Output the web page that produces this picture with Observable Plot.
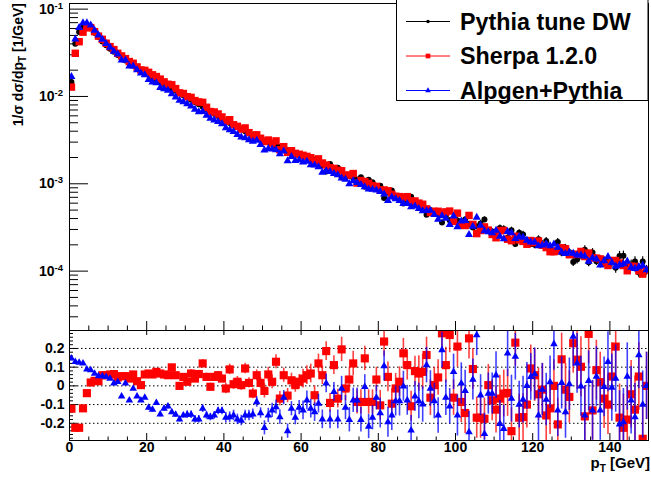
<!DOCTYPE html>
<html><head><meta charset="utf-8">
<script src="https://cdn.jsdelivr.net/npm/d3@7"></script>
<script src="https://cdn.jsdelivr.net/npm/@observablehq/plot@0.6"></script>
<style>
html,body{margin:0;padding:0;background:#fff;}
#chart{position:relative;width:651px;height:482px;overflow:hidden;font-family:"Liberation Sans",Arial,Helvetica,sans-serif;}
#upper{position:absolute;left:0;top:0;}
#lower{position:absolute;left:0;top:330px;}
</style></head><body>
<div id="chart"><div id="upper"></div><div id="lower"></div></div>
<script>
// ---------------- DATA ----------------
const binWidth = 1; // GeV, bins from 0 to 150
const seriesNames = ["Pythia tune DW", "Sherpa 1.2.0", "Alpgen+Pythia"];
const seriesColors = ["black", "red", "blue"];

// 1/sigma dsigma/dpT [1/GeV]
const pythia = [0.0146,0.0402,0.0546,0.0619,0.0638,0.0603,0.0537,0.0479,0.0427,0.0385,
0.0351,0.0324,0.0299,0.0277,0.0258,0.0242,0.0226,0.0213,0.0200,0.0188,
0.0177,0.0167,0.0157,0.0148,0.0139,0.0131,0.0124,0.0116,0.0110,0.0103,
0.00973,0.00916,0.00863,0.00813,0.00764,0.00718,0.00675,0.00634,0.00596,0.00560,
0.00527,0.00498,0.00470,0.00445,0.00421,0.00399,0.00379,0.00361,0.00344,0.00327,
0.00313,0.00299,0.00287,0.00275,0.00264,0.00252,0.00242,0.00232,0.00222,0.00213,
0.00204,0.00195,0.00187,0.00190,0.00172,0.00164,0.00138,0.00168,0.00135,0.00153,
0.00118,0.00127,0.00122,0.00117,0.00112,0.00119,0.000927,0.00111,0.00104,0.000903,
0.000952,0.000687,0.000794,0.000836,0.000729,0.000698,0.000595,0.000641,0.000712,0.000589,
0.000564,0.000542,0.000443,0.000501,0.000482,0.000463,0.000361,0.000429,0.000383,0.000396,
0.000381,0.000369,0.000389,0.000346,0.000315,0.000324,0.000352,0.000389,0.000294,0.000285,
0.000276,0.000312,0.000304,0.000241,0.000294,0.000204,0.000275,0.000263,0.000225,0.000205,
0.000201,0.000231,0.000202,0.000221,0.000190,0.000167,0.000215,0.000162,0.000184,0.000164,
0.000127,0.000136,0.000152,0.000176,0.000126,0.000163,0.000130,0.000135,0.000132,0.000129,
0.000126,0.000109,0.000149,0.000150,0.000123,0.000119,0.000129,0.0000963,0.000129,0.000103];

const sherpa = [0.0128,0.0312,0.0424,0.0545,0.0613,0.0614,0.0552,0.0491,0.0451,0.0407,
0.0372,0.0344,0.0312,0.0291,0.0271,0.0251,0.0240,0.0218,0.0201,0.0199,
0.0189,0.0177,0.0169,0.0158,0.0147,0.0138,0.0136,0.0123,0.0110,0.0108,
0.00994,0.00976,0.00897,0.00864,0.00856,0.00752,0.00672,0.00664,0.00630,0.00582,
0.00520,0.00542,0.00474,0.00455,0.00423,0.00436,0.00385,0.00346,0.00364,0.00332,
0.00305,0.00317,0.00293,0.00310,0.00246,0.00266,0.00229,0.00239,0.00223,0.00218,
0.00212,0.00206,0.00199,0.00181,0.00193,0.00173,0.00164,0.00153,0.00150,0.00143,
0.00141,0.00125,0.00126,0.00131,0.00102,0.00109,0.00106,0.00101,0.000951,0.000934,
0.000853,0.000850,0.000832,0.000757,0.000719,0.000713,0.000699,0.000712,0.000634,0.000636,
0.000601,0.000583,0.000516,0.000469,0.000484,0.000484,0.000462,0.000477,0.000487,0.000371,
0.000461,0.000337,0.000333,0.000434,0.000343,0.000269,0.000292,0.000321,0.000295,0.000263,
0.000241,0.000291,0.000292,0.000232,0.000223,0.000251,0.000228,0.000219,0.000203,0.000224,
0.000212,0.000221,0.000198,0.000186,0.000167,0.000167,0.000171,0.000185,0.000180,0.000154,
0.000156,0.000155,0.000168,0.000147,0.000161,0.000142,0.000141,0.000138,0.000123,0.000116,
0.000132,0.000132,0.000124,0.000116,0.000101,0.000114,0.000113,0.000101,0.0000925,0.000103];

const alpgen = [0.0168,0.0454,0.0614,0.0693,0.0694,0.0654,0.0572,0.0504,0.0449,0.0403,
0.0365,0.0328,0.0306,0.0261,0.0261,0.0223,0.0223,0.0201,0.0185,0.0176,
0.0156,0.0146,0.0143,0.0126,0.0122,0.0117,0.0107,0.00981,0.00903,0.00867,
0.00823,0.00775,0.00709,0.00667,0.00671,0.00605,0.00562,0.00534,0.00516,0.00485,
0.00437,0.00415,0.00396,0.00365,0.00343,0.00336,0.00319,0.00306,0.00314,0.00280,
0.00243,0.00252,0.00249,0.00244,0.00220,0.00236,0.00183,0.00204,0.00184,0.00188,
0.00177,0.00180,0.00164,0.00163,0.00156,0.00135,0.00140,0.00138,0.00131,0.00126,
0.00116,0.00112,0.000999,0.00108,0.00103,0.000975,0.000922,0.000869,0.000863,0.000846,
0.000814,0.000760,0.000640,0.000704,0.000670,0.000641,0.000594,0.000592,0.000543,0.000556,
0.000518,0.000488,0.000492,0.000494,0.000443,0.000390,0.000430,0.000402,0.000341,0.000426,
0.000321,0.000374,0.000378,0.000261,0.000326,0.000412,0.000334,0.000289,0.000282,0.000273,
0.000292,0.000249,0.000234,0.000283,0.000274,0.000236,0.000248,0.000244,0.000225,0.000215,
0.000214,0.000195,0.000198,0.000205,0.000194,0.000204,0.000187,0.000165,0.000158,0.000165,
0.000160,0.000152,0.000152,0.000148,0.000129,0.000142,0.000137,0.000117,0.000131,0.000146,
0.000125,0.000113,0.000118,0.000121,0.000129,0.000110,0.000107,0.000112,0.000116,0.000103];

// relative difference to Pythia (lower panel)
const sherpaRatio = [-0.122,-0.224,-0.224,-0.12,-0.039,0.018,0.027,0.025,0.057,0.057,
0.061,0.063,0.045,0.052,0.052,0.039,0.061,0.025,0.004,0.061,
0.066,0.061,0.075,0.066,0.061,0.057,0.099,0.057,0.0,0.048,
0.022,0.066,0.039,0.063,0.12,0.048,-0.005,0.048,0.057,0.039,
-0.014,0.088,0.009,0.022,0.004,0.093,0.016,-0.041,0.057,0.016,
-0.027,0.061,0.022,0.129,-0.068,0.057,-0.052,0.03,0.004,0.022,
0.039,0.057,0.066,-0.05,0.12,0.057,0.186,-0.091,0.111,-0.068,
0.195,-0.014,0.034,0.12,-0.086,-0.086,0.147,-0.086,-0.086,0.034,
-0.104,0.237,0.048,-0.095,-0.014,0.022,0.174,0.111,-0.109,0.079,
0.066,0.075,0.165,-0.063,0.004,0.045,0.281,0.111,0.272,-0.063,
0.21,-0.086,-0.145,0.254,0.09,-0.17,-0.17,-0.176,0.004,-0.077,
-0.127,-0.068,-0.041,-0.038,-0.242,0.231,-0.17,-0.167,-0.1,0.093,
0.057,-0.045,-0.02,-0.158,-0.12,0.0,-0.206,0.142,-0.02,-0.059,
0.228,0.14,0.102,-0.163,0.278,-0.131,0.084,0.02,-0.068,-0.1,
0.05,0.21,-0.17,-0.224,-0.18,-0.045,-0.127,0.05,-0.283,0.0];

const alpgenRatio = [0.147,0.129,0.124,0.12,0.088,0.084,0.066,0.052,0.052,0.048,
0.039,0.013,0.022,-0.056,0.013,-0.077,-0.014,-0.056,-0.077,-0.063,
-0.116,-0.127,-0.091,-0.152,-0.122,-0.109,-0.14,-0.154,-0.179,-0.158,
-0.154,-0.154,-0.179,-0.179,-0.122,-0.158,-0.167,-0.158,-0.134,-0.134,
-0.17,-0.167,-0.158,-0.179,-0.185,-0.158,-0.158,-0.152,-0.086,-0.145,
-0.224,-0.158,-0.131,-0.113,-0.167,-0.063,-0.242,-0.122,-0.17,-0.116,
-0.131,-0.077,-0.122,-0.14,-0.095,-0.179,0.013,-0.179,-0.032,-0.179,
-0.014,-0.116,-0.181,-0.077,-0.077,-0.181,-0.005,-0.217,-0.17,-0.063,
-0.145,0.106,-0.194,-0.158,-0.081,-0.081,-0.002,-0.077,-0.238,-0.056,
-0.081,-0.099,0.111,-0.014,-0.081,-0.158,0.192,-0.063,-0.109,0.075,
-0.158,0.013,-0.027,-0.247,0.034,0.272,-0.05,-0.256,-0.041,-0.041,
0.057,-0.203,-0.229,0.174,-0.068,0.156,-0.1,-0.073,0.0,0.048,
0.063,-0.158,-0.02,-0.073,0.02,0.224,-0.131,0.016,-0.14,0.009,
0.263,0.12,-0.002,-0.158,0.027,-0.131,0.05,-0.131,-0.005,0.129,
-0.009,0.039,-0.206,-0.194,0.05,-0.077,-0.167,0.165,-0.1,0.0];

// statistical error sizes, per 10 GeV block
const pythiaRelErr = [0.004,0.006,0.009,0.013,0.018,0.025,0.033,0.043,0.055,0.065,0.075,0.085,0.1,0.11,0.13];
const mcRelErr     = [0.003,0.005,0.007,0.01,0.014,0.019,0.025,0.032,0.04,0.048,0.056,0.064,0.072,0.08,0.09];
const ratioErr     = [0.006,0.01,0.014,0.02,0.028,0.038,0.05,0.065,0.08,0.095,0.11,0.125,0.14,0.16,0.18];

// axes
const xDomain = [0, 150];
const xTickVals = [0, 20, 40, 60, 80, 100, 120, 140];
const yLogDomain = [2.09e-5, 0.116];
const yLogTicks = [1e-4, 1e-3, 1e-2, 1e-1];
const yLogExp = ["-4", "-3", "-2", "-1"];
const ratioDomain = [-0.292, 0.296];
const ratioTicks = [-0.2, -0.1, 0, 0.1, 0.2];
const ratioLabels = ["-0.2", "-0.1", "0", "0.1", "0.2"];

// ---------------- LAYOUT ----------------
const FONT = '"Liberation Sans", Arial, Helvetica, sans-serif';
const W = 651, ML = 69, MR = 3;
const frameW = W - ML - MR;
const UH = 331, UMT = 3, UMB = 1, uFrameH = UH - UMT - UMB;
const LH = 152, LMT = 0, LMB = 42, lFrameH = LH - LMT - LMB;

const rows = pythia.map((v, i) => {
  const pt = i * binWidth + binWidth / 2;
  const b = Math.floor(pt / 10);
  return {pt, pythia: v, sherpa: sherpa[i], alpgen: alpgen[i],
          rs: sherpaRatio[i], ra: alpgenRatio[i],
          ep: pythiaRelErr[b], em: mcRelErr[b], er: ratioErr[b]};
});

const yMinor = [];
for (const d of [1e-5, 1e-4, 1e-3, 1e-2, 1e-1])
  for (let k = 2; k <= 9; k++) { const v = d * k; if (v >= yLogDomain[0] && v <= yLogDomain[1]) yMinor.push(v); }
const xMinor = d3.range(5, 150, 5).filter(v => v % 20 !== 0);
const rMinor = d3.range(-28, 30, 2).map(v => v / 100).filter(v => Math.abs(v * 10 - Math.round(v * 10)) > 1e-6);

const styleObj = {background: "transparent", overflow: "visible", fontFamily: FONT};
const txt = {fontFamily: FONT, fontWeight: "bold", fill: "black"};

const upper = Plot.plot({
  width: W, height: UH, marginLeft: ML, marginRight: MR, marginTop: UMT, marginBottom: UMB,
  style: styleObj,
  x: {domain: xDomain, axis: null},
  y: {type: "log", domain: yLogDomain, axis: null},
  marks: [
    Plot.tickY(yLogTicks, {y: d => d, insetRight: frameW - 19, stroke: "black"}),
    Plot.tickY(yMinor, {y: d => d, insetRight: frameW - 9, stroke: "black"}),
    Plot.tickX(xTickVals, {x: d => d, insetTop: uFrameH - 9, stroke: "black"}),
    Plot.tickX(xMinor, {x: d => d, insetTop: uFrameH - 4.5, stroke: "black"}),
    Plot.ruleX(rows, {x: "pt", y1: d => d.pythia * (1 - d.ep), y2: d => d.pythia * (1 + d.ep), stroke: "black", strokeWidth: 1.2, clip: true}),
    Plot.dot(rows, {x: "pt", y: "pythia", symbol: "circle", r: 3, fill: "black", stroke: null, clip: true}),
    Plot.ruleX(rows, {x: "pt", y1: d => d.sherpa * (1 - d.em), y2: d => d.sherpa * (1 + d.em), stroke: "red", strokeWidth: 1.2, clip: true}),
    Plot.dot(rows, {x: "pt", y: "sherpa", symbol: "square", r: 4.2, fill: "red", stroke: null, clip: true}),
    Plot.ruleX(rows, {x: "pt", y1: d => d.alpgen * (1 - d.em), y2: d => d.alpgen * (1 + d.em), stroke: "blue", strokeWidth: 1.2, clip: true}),
    Plot.dot(rows, {x: "pt", y: "alpgen", symbol: "triangle", r: 3, fill: "blue", stroke: null, clip: true}),
    Plot.frame({stroke: "black", strokeWidth: 1}),
    Plot.text(yLogTicks, {y: d => d, text: () => "10", frameAnchor: "left", dx: -15, textAnchor: "end", fontSize: 14, ...txt}),
    Plot.text(yLogTicks, {y: d => d, text: (d, i) => yLogExp[i], frameAnchor: "left", dx: -15, dy: -3.5, textAnchor: "start", fontSize: 9.5, ...txt})
  ]
});
document.getElementById("upper").appendChild(upper);

const lower = Plot.plot({
  width: W, height: LH, marginLeft: ML, marginRight: MR, marginTop: LMT, marginBottom: LMB,
  style: styleObj,
  x: {domain: xDomain, axis: null},
  y: {domain: ratioDomain, axis: null},
  marks: [
    Plot.ruleY(ratioTicks, {y: d => d, stroke: "black", strokeDasharray: "1.5,2.5", strokeWidth: 1}),
    Plot.tickY(ratioTicks, {y: d => d, insetRight: frameW - 8, stroke: "black"}),
    Plot.tickY(rMinor, {y: d => d, insetRight: frameW - 4, stroke: "black"}),
    Plot.tickX(xTickVals, {x: d => d, insetTop: lFrameH - 7, stroke: "black"}),
    Plot.tickX(xTickVals, {x: d => d, insetBottom: lFrameH - 5, stroke: "black"}),
    Plot.tickX(xMinor, {x: d => d, insetTop: lFrameH - 3.5, stroke: "black"}),
    Plot.ruleX(rows, {x: "pt", y1: d => d.rs - d.er, y2: d => d.rs + d.er, stroke: "red", strokeOpacity: 0.75, strokeWidth: 1.6, clip: true}),
    Plot.dot(rows, {x: "pt", y: "rs", symbol: "square", r: 4.6, fill: "red", stroke: null, clip: true}),
    Plot.ruleX(rows, {x: "pt", y1: d => d.ra - d.er, y2: d => d.ra + d.er, stroke: "blue", strokeOpacity: 0.75, strokeWidth: 1.6, clip: true}),
    Plot.dot(rows, {x: "pt", y: "ra", symbol: "triangle", r: 2.8, fill: "blue", stroke: null, clip: true}),
    Plot.frame({stroke: "black", strokeWidth: 1}),
    Plot.text(ratioTicks, {y: d => d, text: (d, i) => ratioLabels[i], frameAnchor: "left", dx: -5, textAnchor: "end", fontSize: 14, ...txt}),
    Plot.text(xTickVals, {x: d => d, text: d => String(d), frameAnchor: "bottom", dy: 2, lineAnchor: "top", fontSize: 14, ...txt})
  ]
});
document.getElementById("lower").appendChild(lower);

// ---------------- titles and legend ----------------
const us = d3.select(upper);
const yt = us.append("text")
  .attr("transform", "translate(23,3) rotate(-90)")
  .attr("text-anchor", "end").attr("font-size", 14).attr("font-weight", "bold").attr("font-family", FONT);
yt.append("tspan").text("1/\u03c3 d\u03c3/dp");
yt.append("tspan").attr("dy", 3).attr("font-size", 10).text("T");
yt.append("tspan").attr("dy", -3).text(" [1/GeV]");

const ls = d3.select(lower);
const xt = ls.append("text").attr("x", 650).attr("y", 138)
  .attr("text-anchor", "end").attr("font-size", 15).attr("font-weight", "bold").attr("font-family", FONT);
xt.append("tspan").text("p");
xt.append("tspan").attr("dy", 4).attr("font-size", 10).text("T");
xt.append("tspan").attr("dy", -4).text(" [GeV]");

const legendSymbols = [d3.symbolCircle, d3.symbolSquare, d3.symbolTriangle];
const legendSizes = [10, 22, 14];
const lg = us.append("g");
lg.append("rect").attr("x", 396.5).attr("y", -1).attr("width", 251.5).attr("height", 101.5)
  .attr("fill", "white").attr("stroke", "black");
seriesNames.forEach((name, i) => {
  const cy = 21.5 + i * 34.5;
  lg.append("line").attr("x1", 406).attr("x2", 450).attr("y1", cy).attr("y2", cy).attr("stroke", seriesColors[i]);
  lg.append("path").attr("d", d3.symbol(legendSymbols[i], legendSizes[i])())
    .attr("transform", `translate(428,${cy})`).attr("fill", seriesColors[i]);
  lg.append("text").attr("x", 460).attr("y", cy).attr("dy", "0.36em").attr("text-anchor", "start").text(name)
    .attr("font-size", 23.3).attr("font-weight", "bold").attr("font-family", FONT).attr("fill", "black");
});
</script>
</body></html>
